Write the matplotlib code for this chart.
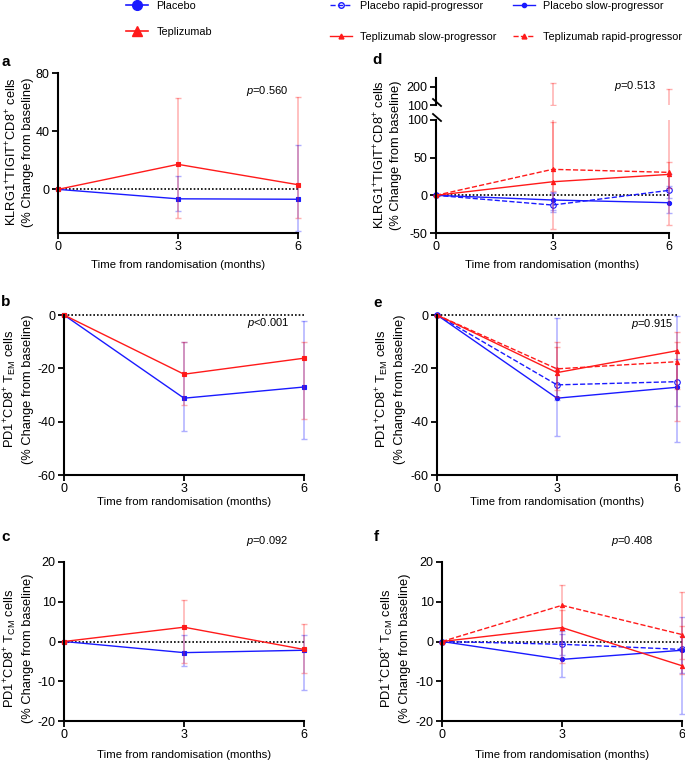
import numpy as np
import matplotlib
matplotlib.use('Agg')
import matplotlib.pyplot as plt
from matplotlib.lines import Line2D
from matplotlib.patches import Rectangle

plt.rcParams['font.family'] = ['Liberation Sans', 'DejaVu Sans']
plt.rcParams['mathtext.fontset'] = 'custom'
plt.rcParams['mathtext.rm'] = 'Liberation Sans'
plt.rcParams['mathtext.it'] = 'Liberation Sans:italic'
plt.rcParams['mathtext.bf'] = 'Liberation Sans:bold'
plt.rcParams['axes.unicode_minus'] = False

# ---- data (median and range) ----
months = [0, 3, 6]

# a: KLRG1+TIGIT+CD8+
a_pla = [0, -6.5, -6.8]
a_pla_lo = [0, -14.7, -28.5]
a_pla_hi = [0, 9.4, 30.8]
a_tep = [0, 17.2, 3.2]
a_tep_lo = [0, -19.8, -19.5]
a_tep_hi = [0, 62.5, 63.2]

# b: PD1+CD8+ TEM
b_pla = [0, -31.2, -27.0]
b_pla_lo = [0, -43.6, -46.6]
b_pla_hi = [0, -10.0, -2.1]
b_tep = [0, -22.2, -16.2]
b_tep_lo = [0, -33.9, -39.1]
b_tep_hi = [0, -10.2, -10.2]

# c: PD1+CD8+ TCM
c_pla = [0, -2.8, -2.2]
c_pla_lo = [0, -6.1, -12.3]
c_pla_hi = [0, 1.7, 1.7]
c_tep = [0, 3.6, -2.0]
c_tep_lo = [0, -5.4, -7.8]
c_tep_hi = [0, 10.4, 4.3]

# d: KLRG1+TIGIT+CD8+ by progressor status
d_pr = [0, -12.9, 6.6]
d_pr_lo = [0, -20.0, -4.0]
d_pr_hi = [0, 4.0, 12.0]
d_ps = [0, -6.2, -9.8]
d_ps_lo = [0, -21.8, -24.0]
d_ps_hi = [0, 2.6, 28.0]
d_ts = [0, 18.0, 27.8]
d_ts_lo = [0, 6.1, 10.0]
d_ts_hi = [0, 98.0, 44.6]
d_tr = [0, 34.5, 30.5]
d_tr_lo = [0, -45.0, -39.0]
d_tr_hi = [0, 223.0, 190.0]

# e: PD1+CD8+ TEM by progressor status
e_pr = [0, -26.2, -25.0]
e_pr_lo = [0, -32.0, -34.0]
e_pr_hi = [0, -20.0, -16.5]
e_ps = [0, -31.2, -27.1]
e_ps_lo = [0, -45.3, -47.5]
e_ps_hi = [0, -1.2, -0.4]
e_ts = [0, -21.6, -13.4]
e_ts_lo = [0, -30.6, -39.9]
e_ts_hi = [0, -10.2, -6.5]
e_tr = [0, -20.2, -17.5]
e_tr_lo = [0, -28.0, -27.7]
e_tr_hi = [0, -12.0, -10.2]

# f: PD1+CD8+ TCM by progressor status
f_pr = [0, -0.7, -2.0]
f_pr_lo = [0, -3.5, -8.0]
f_pr_hi = [0, 2.6, 1.5]
f_ps = [0, -4.5, -2.2]
f_ps_lo = [0, -9.0, -18.3]
f_ps_hi = [0, 2.0, 6.2]
f_ts = [0, 3.5, -6.1]
f_ts_lo = [0, -5.3, -8.2]
f_ts_hi = [0, 8.0, 3.85]
f_tr = [0, 9.1, 1.75]
f_tr_lo = [0, 3.5, -4.3]
f_tr_hi = [0, 14.1, 12.5]

p_values = ['0.560', '<0.001', '0.092', '0.513', '0.915', '0.408']

BLUE = '#1a1aff'
RED = '#ff1a1a'
W, H = 685, 762

fig = plt.figure(figsize=(6.85, 7.62), dpi=100)


def box(l, t, r, b):
    return [l / W, 1 - b / H, (r - l) / W, (b - t) / H]


def px(x, y):
    return x / W, 1 - y / H


def series(ax, mean, lo, hi, color, ls='-', marker='s', mfc=None, ms=3, clip=None):
    yerr = [np.subtract(mean, lo), np.subtract(hi, mean)]
    eb = ax.errorbar(months, mean, yerr=yerr, fmt='none', ecolor=color,
                     alpha=0.35, elinewidth=1.1, capsize=2.5, capthick=1)
    ln, = ax.plot(months, mean, color=color, ls=ls, lw=1, marker=marker,
                  ms=ms, mfc=mfc if mfc else color, mec=color, mew=0.8)
    arts = [ln] + list(eb.lines[1]) + list(eb.lines[2])
    for a in arts:
        if clip is None:
            a.set_clip_on(False)
        else:
            a.set_clip_path(clip)


def style(ax, ylim, yticks, xaxis=True, labelpad=4):
    ax.set_xlim(0, 6)
    ax.set_ylim(*ylim)
    ax.set_yticks(yticks)
    for s in ['top', 'right']:
        ax.spines[s].set_visible(False)
    for s in ['left', 'bottom']:
        ax.spines[s].set_linewidth(1.5)
    ax.tick_params(direction='out', length=4, width=1.3, labelsize=9, pad=2)
    if xaxis:
        ax.set_xticks(months)
        ax.set_xlabel('Time from randomisation (months)', fontsize=8.2,
                      labelpad=labelpad)
    ax.axhline(0, color='k', ls=(0, (1, 1.2)), lw=1.2, zorder=1, clip_on=False)


ylab_kt = 'KLRG1$^{+}$TIGIT$^{+}$CD8$^{+}$ cells\n(% Change from baseline)'
ylab_em = 'PD1$^{+}$CD8$^{+}$ T$_{\\rm EM}$ cells\n(% Change from baseline)'
ylab_cm = 'PD1$^{+}$CD8$^{+}$ T$_{\\rm CM}$ cells\n(% Change from baseline)'

# ---- left column ----
ax_a = fig.add_axes(box(58, 73, 298, 233))
style(ax_a, (-30, 80), [0, 40, 80], labelpad=5)
series(ax_a, a_pla, a_pla_lo, a_pla_hi, BLUE)
series(ax_a, a_tep, a_tep_lo, a_tep_hi, RED)

ax_b = fig.add_axes(box(64, 315, 304, 475))
style(ax_b, (-60, 0), [0, -20, -40, -60], labelpad=1)
series(ax_b, b_pla, b_pla_lo, b_pla_hi, BLUE)
series(ax_b, b_tep, b_tep_lo, b_tep_hi, RED)

ax_c = fig.add_axes(box(64, 562, 304, 721))
style(ax_c, (-20, 20), [-20, -10, 0, 10, 20], labelpad=6)
series(ax_c, c_pla, c_pla_lo, c_pla_hi, BLUE)
series(ax_c, c_tep, c_tep_lo, c_tep_hi, RED)

# ---- right column ----
ax_d = fig.add_axes(box(436, 120, 669, 233))
style(ax_d, (-50, 100), [-50, 0, 50, 100], labelpad=5)
ax_du = fig.add_axes(box(436, 78, 669, 105), sharex=ax_d)
style(ax_du, (100, 248), [100, 200], xaxis=False)
ax_du.spines['bottom'].set_visible(False)
ax_du.tick_params(axis='x', bottom=False, labelbottom=False)
ax_du.lines[-1].set_visible(False)
for ax in (ax_d, ax_du):
    clip = Rectangle((-0.05, 0), 1.1, 1, transform=ax.transAxes)
    series(ax, d_pr, d_pr_lo, d_pr_hi, BLUE, ls='--', marker='o', mfc='none', ms=4, clip=clip)
    series(ax, d_ps, d_ps_lo, d_ps_hi, BLUE, marker='o', ms=3, clip=clip)
    series(ax, d_ts, d_ts_lo, d_ts_hi, RED, marker='^', ms=3, clip=clip)
    series(ax, d_tr, d_tr_lo, d_tr_hi, RED, ls='--', marker='^', ms=3, clip=clip)
# break marks on the y axis
for yb in (102, 117):
    fig.add_artist(Line2D([433 / W, 441 / W], [1 - (yb - 3) / H, 1 - (yb + 4) / H],
                          color='k', lw=1.3))

ax_e = fig.add_axes(box(437, 315, 677, 475))
style(ax_e, (-60, 0), [0, -20, -40, -60], labelpad=1)
series(ax_e, e_pr, e_pr_lo, e_pr_hi, BLUE, ls='--', marker='o', mfc='none', ms=4)
series(ax_e, e_ps, e_ps_lo, e_ps_hi, BLUE, marker='o', ms=3)
series(ax_e, e_ts, e_ts_lo, e_ts_hi, RED, marker='^', ms=3)
series(ax_e, e_tr, e_tr_lo, e_tr_hi, RED, ls='--', marker='^', ms=3)

ax_f = fig.add_axes(box(442, 562, 682, 721))
style(ax_f, (-20, 20), [-20, -10, 0, 10, 20], labelpad=6)
series(ax_f, f_pr, f_pr_lo, f_pr_hi, BLUE, ls='--', marker='o', mfc='none', ms=4)
series(ax_f, f_ps, f_ps_lo, f_ps_hi, BLUE, marker='o', ms=3)
series(ax_f, f_ts, f_ts_lo, f_ts_hi, RED, marker='^', ms=3)
series(ax_f, f_tr, f_tr_lo, f_tr_hi, RED, ls='--', marker='^', ms=3)

# ---- y labels, panel letters, p values ----
ylabels = [(ylab_kt, 19, 152), (ylab_em, 18, 389), (ylab_cm, 18, 648),
           (ylab_kt, 387, 155), (ylab_em, 390, 389), (ylab_cm, 395, 648)]
for txt, x, y in ylabels:
    fig.text(*px(x, y), txt, rotation=90, ha='center', va='center',
             fontsize=9.3, linespacing=1.3)

letters = [('a', 1, 62), ('b', 1, 302), ('c', 1, 537),
           ('d', 372, 60), ('e', 373, 303), ('f', 374, 537)]
for t, x, y in letters:
    fig.text(*px(x, y), t, fontsize=11, fontweight='bold', ha='left', va='center')

p_pos = [(267, 91), (268, 323), (267, 541), (635, 86), (652, 324), (632, 541)]
for pv, (x, y) in zip(p_values, p_pos):
    sep = '' if pv.startswith('<') else '='
    fig.text(*px(x, y), '$p$' + sep + pv, fontsize=8, ha='center', va='center')

# ---- legends ----
leg_kw = dict(loc='upper left', frameon=False, borderpad=0, borderaxespad=0,
              fontsize=7.8, handlelength=2.0, handletextpad=0.8)
fig.legend([Line2D([], [], color=BLUE, marker='o', ms=7, lw=1.2),
            Line2D([], [], color=RED, marker='^', ms=7, lw=1.2)],
           ['Placebo', 'Teplizumab'], bbox_to_anchor=px(126, 1),
           labelspacing=1.45, **leg_kw)
fig.legend([Line2D([], [], color=BLUE, ls='--', marker='o', mfc='none', ms=4, lw=1),
            Line2D([], [], color=RED, marker='^', ms=3.5, lw=1)],
           ['Placebo rapid-progressor', 'Teplizumab slow-progressor'],
           bbox_to_anchor=px(330, 1), labelspacing=1.95, **leg_kw)
fig.legend([Line2D([], [], color=BLUE, marker='o', ms=3, lw=1),
            Line2D([], [], color=RED, ls='--', marker='^', ms=3.5, lw=1)],
           ['Placebo slow-progressor', 'Teplizumab rapid-progressor'],
           bbox_to_anchor=px(513, 1), labelspacing=1.95, **leg_kw)

fig.savefig('out.png', dpi=100)
